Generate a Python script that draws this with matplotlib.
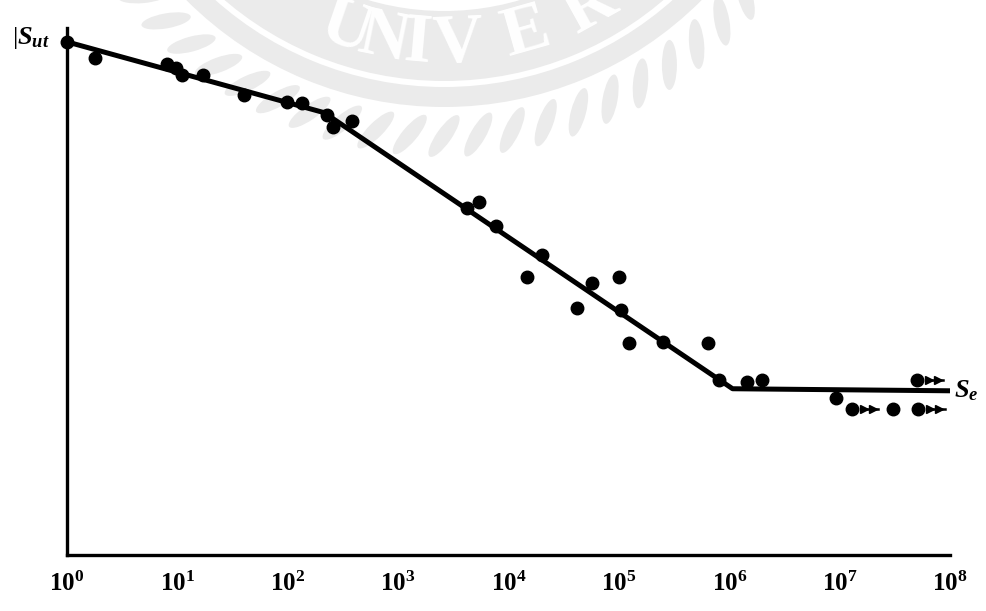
import numpy as np
import matplotlib
matplotlib.use("Agg")
import matplotlib.pyplot as plt
from matplotlib.patches import Wedge, Ellipse
from matplotlib.transforms import offset_copy

plt.rcParams['font.family'] = ['Liberation Serif', 'DejaVu Serif']
plt.rcParams['mathtext.fontset'] = 'custom'
plt.rcParams['mathtext.rm'] = 'Liberation Serif:bold'
plt.rcParams['mathtext.it'] = 'Liberation Serif:bold:italic'
plt.rcParams['mathtext.bf'] = 'Liberation Serif:bold'

# fatigue test points: log10(cycles) and strength as fraction of S_ut
test_logN = [0.0, 0.25, 0.91, 0.99, 1.04, 1.23, 1.60, 1.99, 2.13, 2.36, 2.41, 2.58,
             3.62, 3.73, 3.89, 4.30, 4.17, 4.76, 5.00, 4.62, 5.02, 5.09, 5.40, 5.81, 5.91,
             6.16, 6.30, 6.97, 7.48]
test_S = [1.000, 0.969, 0.957, 0.949, 0.936, 0.936, 0.897, 0.883, 0.881, 0.858, 0.834, 0.846,
          0.676, 0.688, 0.641, 0.585, 0.542, 0.530, 0.542, 0.481, 0.478, 0.413, 0.415, 0.413, 0.341,
          0.337, 0.341, 0.306, 0.285]

# run-outs (no failure)
runout_logN = [7.11, 7.71, 7.70]
runout_S = [0.285, 0.285, 0.341]

# fitted S-N curve
curve_logN = [0.0, 2.33, 6.03, 8.0]
curve_S = [1.0, 0.862, 0.324, 0.320]

xtick_exp = [0, 1, 2, 3, 4, 5, 6, 7, 8]

fig = plt.figure(figsize=(9.87, 6.11), dpi=100)

# faint seal watermark in pixel coordinates
bg = fig.add_axes([0, 0, 1, 1], zorder=0)
bg.set_xlim(0, 987)
bg.set_ylim(611, 0)
bg.axis('off')
wm = '#ebebeb'
cx, cy = 444, -257
bg.add_patch(Wedge((cx, cy), 338, 0, 360, width=70, color=wm, lw=0))
bg.add_patch(Wedge((cx, cy), 364, 0, 360, width=20, color=wm, lw=0))
for phi in np.arange(-70, 71, 5.0):
    r = 393
    a = np.radians(phi)
    bg.add_patch(Ellipse((cx + r * np.sin(a), cy + r * np.cos(a)), 50, 15,
                         angle=-(phi + 55), color=wm, lw=0))
for ch, phi in zip("UNIVER", [-19.0, -11.5, -5.0, 2.5, 15.8, 29.0]):
    a = np.radians(phi)
    r = 302
    bg.text(cx + r * np.sin(a), cy + r * np.cos(a), ch, rotation=phi,
            ha='center', va='center', fontsize=50, color='white', weight='bold',
            family='Liberation Serif', rotation_mode='anchor')

ax = fig.add_axes([67 / 987, 56 / 611, 883 / 987, 527 / 611], zorder=1)
ax.patch.set_alpha(0)
ax.set_xscale('log')
ax.set_xlim(1, 1e8)
ax.set_ylim(0, 1.027)

ax.plot(10.0 ** np.array(curve_logN), curve_S, color='black', lw=3.6,
        solid_capstyle='butt', zorder=3)
ax.plot(10.0 ** np.array(test_logN), test_S, 'o', color='black', ms=9, zorder=4,
        clip_on=False)

rx = 10.0 ** np.array(runout_logN)
ax.plot(rx, runout_S, 'o', color='black', ms=9, zorder=4)
for off in (9, 15):
    tr = offset_copy(ax.transData, fig=fig, x=off, y=0, units='points')
    ax.plot(rx, runout_S, '>', color='black', ms=6, transform=tr, zorder=4)
tr = offset_copy(ax.transData, fig=fig, x=8, y=0, units='points')
for x, y in zip(rx, runout_S):
    ax.plot([x, x * 10 ** 0.14], [y, y], color='black', lw=1.8, transform=tr, zorder=4)

for side in ('top', 'right'):
    ax.spines[side].set_visible(False)
for side in ('left', 'bottom'):
    ax.spines[side].set_linewidth(2.4)

ax.set_xticks([10.0 ** e for e in xtick_exp])
ax.set_xticklabels([r'$\mathbf{10^{%d}}$' % e for e in xtick_exp], fontsize=18)
ax.xaxis.set_minor_locator(matplotlib.ticker.NullLocator())
ax.tick_params(axis='x', length=0, pad=12)
ax.set_yticks([])

fig.text(12 / 987, 1 - 38 / 611, r'|$S_{ut}$', fontsize=19, ha='left', va='center')
ax.text(1.004, curve_S[-1], r'$S_e$', transform=ax.get_yaxis_transform(),
        fontsize=19, ha='left', va='center')

fig.savefig('out.png', dpi=100)
